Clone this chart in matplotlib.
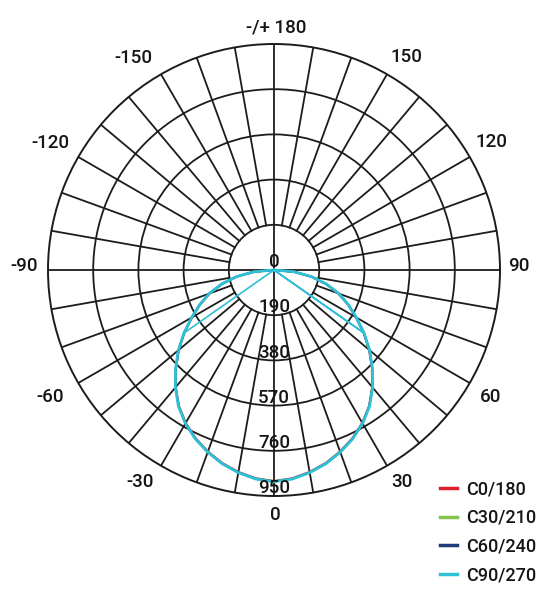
import numpy as np
import matplotlib
matplotlib.use('Agg')
import matplotlib.pyplot as plt

plt.rcParams['font.family'] = ['Roboto', 'DejaVu Sans']

# ---- data (candela values) ----
angles_deg = [-90, -85, -80, -75, -70, -65, -60, -55, -50, -45, -40, -35,
              -30, -25, -20, -15, -10, -5, 0, 5, 10, 15, 20, 25, 30, 35,
              40, 45, 50, 55, 60, 65, 70, 75, 80, 85, 90]
c0_180 = [0, 84, 158, 226, 288, 343, 398, 460, 522, 582, 642, 697,
          742, 780, 812, 840, 862, 879, 887, 879, 862, 840, 812, 780, 742, 697,
          642, 582, 522, 460, 398, 343, 288, 226, 158, 84, 0]
c30_210 = [0, 84, 159, 227, 289, 344, 399, 461, 523, 583, 643, 698,
           743, 781, 813, 841, 863, 880, 888, 880, 863, 841, 813, 781, 743, 698,
           643, 583, 523, 461, 399, 344, 289, 227, 159, 84, 0]
c60_240 = [0, 85, 159, 227, 289, 344, 399, 461, 524, 584, 644, 699,
           744, 782, 814, 842, 864, 881, 889, 881, 864, 842, 814, 782, 744, 699,
           644, 584, 524, 461, 399, 344, 289, 227, 159, 85, 0]
c90_angles = [-90, -85, -80, -75, -70, -65, -60, -55, -50, -45, -40, -35,
              -30, -25, -20, -15, -10, -5, 0, 5, 10, 15, 20, 25, 30, 35,
              40, 45, 50, 55, 60, 65, 70, 75, 80, 85, 90, 55, 55, -55]
c90_270 = [0, 85, 160, 228, 290, 345, 400, 462, 525, 585, 645, 700,
           745, 783, 815, 843, 865, 882, 890, 882, 865, 843, 815, 783, 745, 700,
           645, 585, 525, 462, 400, 345, 290, 228, 160, 85, 0, 462, 0, 462]

series_names = ['C0/180', 'C30/210', 'C60/240', 'C90/270']
series_colors = ['#e0202c', '#86c250', '#1e3a7a', '#2fbfd6']

tick_angles = [0, 30, 60, 90, 120, 150, 180, -150, -120, -90, -60, -30]
tick_labels = ['0', '30', '60', '90', '120', '150', '-/+ 180',
               '-150', '-120', '-90', '-60', '-30']
ring_values = [0, 190, 380, 570, 760, 950]
ring_labels = ['0', '190', '380', '570', '760', '950']

# layout: label centre offsets from the polar centre, in pixels (x right, y up)
label_offsets_px = {
    '0': (1, -245), '30': (128, -212), '60': (217, -127), '90': (245, 4),
    '120': (217, 128), '150': (132, 213), '-/+ 180': (2, 242.5),
    '-150': (-140.7, 211.7), '-120': (-224, 127.3), '-90': (-250, 4),
    '-60': (-224, -127), '-30': (-134, -212),
}

# ---- figure ----
fig = plt.figure(figsize=(5.58, 6.0), dpi=100)
ax = fig.add_axes([(274 - 226) / 558, (330 - 226) / 600, 452 / 558, 452 / 600],
                  projection='polar')
ax.set_theta_zero_location('S')
ax.set_theta_direction(1)
rmax = ring_values[-1]
ax.set_ylim(0, rmax)

grid_col = '#1c1c1c'
ax.set_xticks([])
ax.set_yticks(ring_values[1:-1])
ax.set_yticklabels([])
ax.xaxis.grid(False)
ax.yaxis.grid(True, color=grid_col, lw=1.3)
ax.tick_params(length=0)
ax.spines['polar'].set_color(grid_col)
ax.spines['polar'].set_linewidth(1.4)

# spokes every 10 degrees from the first ring outward, axes through centre
for a in range(0, 360, 10):
    th = np.deg2rad(a)
    if a % 90 == 0:
        ax.plot([th, th], [0, rmax], color=grid_col, lw=1.3, zorder=1)
    else:
        ax.plot([th, th], [ring_values[1], rmax], color=grid_col, lw=1.3, zorder=1)

# curves
data = [(angles_deg, c0_180), (angles_deg, c30_210), (angles_deg, c60_240)]
handles = []
for (angs, vals), name, col in zip(data, series_names, series_colors):
    ln, = ax.plot(np.deg2rad(angs), vals, color=col, lw=1.5, zorder=3, label=name)
    handles.append(ln)

# C90/270: main arc (bold) and the radial cut-off strokes (thin)
n_arc = len(angles_deg)
th90 = np.deg2rad(c90_angles)
ln, = ax.plot(th90[:n_arc], c90_270[:n_arc], color=series_colors[3], lw=2.0,
              zorder=4, label=series_names[3])
ax.plot(th90[n_arc - 1:], c90_270[n_arc - 1:], color=series_colors[3], lw=1.2,
        zorder=4)
handles.append(ln)

txt_col = '#151515'
fs = 13.5

# radial labels
for v, lbl in zip(ring_values, ring_labels):
    ax.annotate(lbl, xy=(0, v), xytext=(0, 2.0), textcoords='offset points',
                ha='center', va='baseline', fontsize=fs, fontweight='medium',
                color=txt_col, zorder=5, annotation_clip=False)

# angular labels (anchored at the polar centre, offset outward)
for a, lbl in zip(tick_angles, tick_labels):
    ox, oy = label_offsets_px[lbl]
    ax.annotate(lbl, xy=(0, 0), xytext=(ox * 0.72, oy * 0.72),
                textcoords='offset points', ha='center', va='center',
                fontsize=fs, fontweight='medium', color=txt_col,
                annotation_clip=False)

leg = fig.legend(handles=handles, labels=series_names, loc='upper left',
                 bbox_to_anchor=(440 / 558, 1 - 480 / 600), frameon=False,
                 prop={'size': 13, 'weight': 'medium'}, handlelength=0.95,
                 handletextpad=0.5, labelspacing=0.6, borderpad=0,
                 borderaxespad=0)
for lh in leg.get_lines():
    lh.set_linewidth(2.5)
for t in leg.get_texts():
    t.set_color(txt_col)

fig.savefig('out.png', dpi=100, facecolor='white')
